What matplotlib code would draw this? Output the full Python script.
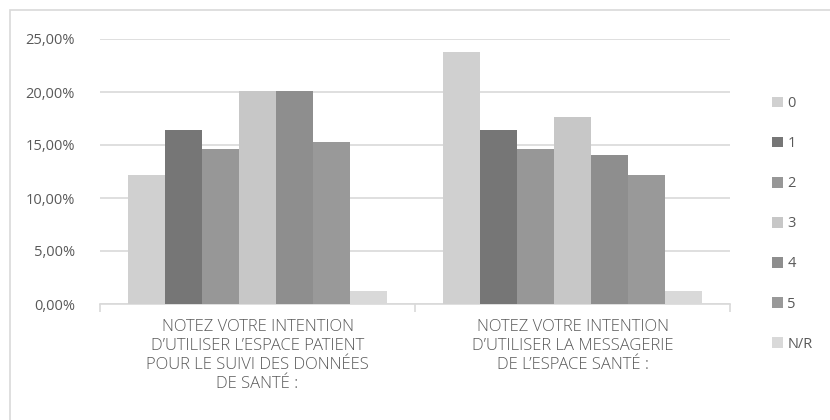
import matplotlib
matplotlib.use("Agg")
import matplotlib.pyplot as plt
from matplotlib.patches import Rectangle
from matplotlib.ticker import FuncFormatter, FixedLocator
import numpy as np

categories = [
    "NOTEZ VOTRE INTENTION\nD’UTILISER L’ESPACE PATIENT\nPOUR LE SUIVI DES DONNÉES\nDE SANTÉ :",
    "NOTEZ VOTRE INTENTION\nD’UTILISER LA MESSAGERIE\nDE L’ESPACE SANTÉ :",
]
series_labels = ["0", "1", "2", "3", "4", "5", "N/R"]
values_suivi = [12.20, 16.46, 14.63, 20.12, 20.12, 15.24, 1.22]
values_messagerie = [23.78, 16.46, 14.63, 17.68, 14.02, 12.20, 1.22]
series_colors = ["#d0d0d0", "#767676", "#979797", "#c7c7c7", "#8e8e8e", "#999999", "#d9d9d9"]

plt.rcParams['font.family'] = ['Open Sans', 'DejaVu Sans']
text_color = "#595959"
grid_color = "#d9d9d9"

fig = plt.figure(figsize=(8.3, 4.2), dpi=100)
W, H = 830, 420
ax = fig.add_axes([100 / W, 1 - 304 / H, 630 / W, 265 / H])

n = len(series_labels)
bw = 1 / (n + 1.5)
x = np.arange(len(categories))
for i, lab in enumerate(series_labels):
    vals = [values_suivi[i], values_messagerie[i]]
    ax.bar(x + (i - (n - 1) / 2) * bw, vals, width=bw, color=series_colors[i],
           label=lab, zorder=3, linewidth=0)

ax.set_xlim(-0.5, 1.5)
ax.set_ylim(0, 25)
ax.yaxis.set_major_locator(FixedLocator([0, 5, 10, 15, 20, 25]))
ax.yaxis.set_major_formatter(FuncFormatter(lambda v, p: f"{v:.2f}".replace(".", ",") + "%"))
ax.grid(axis="y", color=grid_color, linewidth=1.2, zorder=0)
for s in ["top", "right", "left"]:
    ax.spines[s].set_visible(False)
ax.spines["bottom"].set_color(grid_color)
ax.spines["bottom"].set_linewidth(1.2)
ax.tick_params(axis="y", length=0, pad=18, labelsize=10.5, labelcolor=text_color)
ax.set_xticks([-0.5, 0.5, 1.5])
ax.set_xticklabels(["", "", ""])
ax.tick_params(axis="x", length=6, color=grid_color, width=1.2)
ax.set_xticks(x, minor=True)
ax.set_xticklabels(categories, minor=True, fontsize=12, color=text_color,
                   linespacing=1.25, va="top", family=["Open Sans", "DejaVu Sans"],
                   fontweight="light")
ax.tick_params(axis="x", which="minor", length=0, pad=11)

leg = fig.legend(loc="upper left", bbox_to_anchor=(759 / W, 1 - 83 / H), frameon=False,
                 handlelength=0.75, handleheight=0.75, handletextpad=0.3,
                 labelspacing=1.72, fontsize=10.5, labelcolor=text_color)

fig.patches.append(Rectangle((9.5 / W, -0.1), 1.2, 1 - 9.5 / H + 0.1, transform=fig.transFigure,
                             fill=False, edgecolor="#d9d9d9", linewidth=1.2))

fig.savefig("out.png", dpi=100)
